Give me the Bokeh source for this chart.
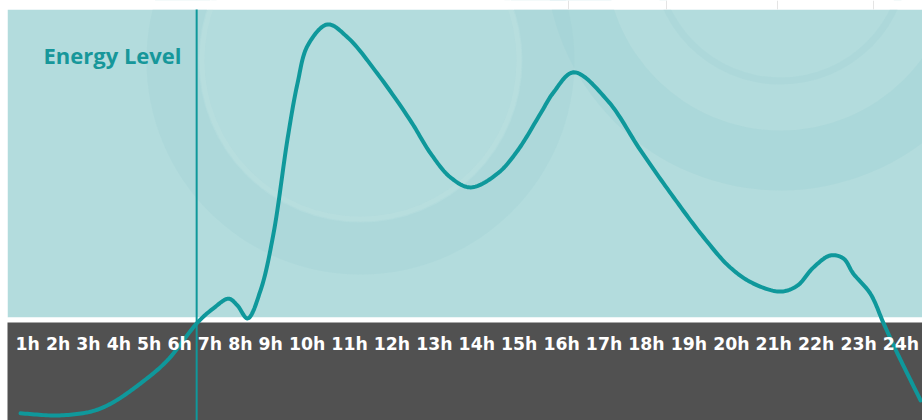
import numpy as np
from bokeh.plotting import figure
from bokeh.models import Range1d
from bokeh.core.properties import value
from bokeh.embed import file_html
from bokeh.resources import INLINE

# ---------------- data ----------------
hour_labels = [f"{h}h" for h in range(1, 25)]

# energy curve: time of day (hours) and energy level (0-100)
curve_hours = [0.83, 1.80, 2.67, 3.20, 3.98, 4.69, 5.48, 5.90, 6.30, 6.53, 6.80,
               7.14, 7.48, 7.85, 8.11, 8.38, 8.90, 9.43, 10.21, 11.08,
               11.61, 12.13, 12.66, 13.37, 13.90, 14.50, 14.84, 15.37, 16.26,
               17.13, 18.00, 18.79, 19.49, 20.10, 20.81, 21.25, 21.67, 22.12,
               22.46, 22.72, 23.17, 23.52, 23.88, 24.49]
curve_energy = [1.7, 1.2, 2.1, 4.0, 8.8, 14.3, 23.3, 26.7, 29.0, 27.4, 24.3,
                31.0, 44.5, 67.1, 80.2, 89.3, 94.3, 91.2, 82.6, 71.4,
                63.6, 57.9, 55.5, 58.8, 64.3, 73.1, 78.1, 82.9, 76.2,
                64.3, 53.1, 43.6, 36.4, 32.6, 30.7, 32.1, 36.4, 39.3,
                38.6, 35.0, 30.2, 23.1, 16.0, 4.8]
now_hour = 5.46
title_text = "Energy Level"

# ---------------- layout helpers ----------------
W, H = 922, 420
PX_PER_HOUR = 38.04
X0 = 1 - 26.5 / PX_PER_HOUR
X1 = X0 + W / PX_PER_HOUR
Y0, Y1 = 0.0, 100.0


def px2x(px):
    return X0 + px * (X1 - X0) / W


def py2y(py):
    return Y1 - py * (Y1 - Y0) / H


TEAL_BG = "#b3dcdd"
RING = "#9ed2d5"
DARK = "#515151"
LINE = "#0f989b"

p = figure(width=W, height=H, output_backend="svg", toolbar_location=None,
           x_range=Range1d(X0, X1), y_range=Range1d(Y0, Y1),
           x_axis_location=None, y_axis_location=None, min_border=0,
           background_fill_color="white", border_fill_color="white")
p.grid.visible = False
p.outline_line_color = None

# teal panel
p.quad(left=px2x(7), right=px2x(W), top=py2y(9), bottom=py2y(317),
       fill_color=TEAL_BG, line_color=None)

# faint decorative rings
rings = [  # cx, cy, r_in, r_out, color, alpha
    (360, 60, 162, 214, RING, 0.30),
    (360, 60, 156, 161, "#c2e3e4", 0.25),
    (780, -45, 175, 235, RING, 0.35),
    (780, -45, 122, 129, RING, 0.30),
]
for cx, cy, ri, ro, col, a in rings:
    p.annulus(x=px2x(cx), y=py2y(cy), inner_radius=ri, outer_radius=ro,
              inner_radius_units="screen", outer_radius_units="screen",
              fill_color=col, fill_alpha=a, line_color=None)

# mask: white strips around the panel
p.quad(left=px2x(0), right=px2x(W), top=py2y(0), bottom=py2y(9),
       fill_color="white", line_color=None)
p.quad(left=px2x(0), right=px2x(7), top=py2y(0), bottom=py2y(H),
       fill_color="white", line_color=None)
p.quad(left=px2x(7), right=px2x(W), top=py2y(317), bottom=py2y(322),
       fill_color="white", line_color=None)
# faint seams in the top strip
for sxp in (568, 666, 777, 873):
    p.segment(x0=px2x(sxp), y0=py2y(0), x1=px2x(sxp), y1=py2y(9),
              line_color="#e4e4e4", line_width=1)
# dark band
p.quad(left=px2x(7), right=px2x(W), top=py2y(322), bottom=py2y(H),
       fill_color=DARK, line_color=None)

# "now" marker line
p.segment(x0=now_hour, y0=py2y(9), x1=now_hour, y1=py2y(H),
          line_color=LINE, line_width=2)


# smooth curve through the read points (centripetal Catmull-Rom, screen space)
def smooth(xs, ys, n=16):
    P = np.column_stack([np.asarray(xs) * PX_PER_HOUR, np.asarray(ys) * 4.2])
    P = np.vstack([2 * P[0] - P[1], P, 2 * P[-1] - P[-2]])
    out = []
    for i in range(1, len(P) - 2):
        p0, p1, p2, p3 = P[i - 1], P[i], P[i + 1], P[i + 2]
        t0 = 0.0
        t1 = t0 + np.linalg.norm(p1 - p0) ** 0.5
        t2 = t1 + np.linalg.norm(p2 - p1) ** 0.5
        t3 = t2 + np.linalg.norm(p3 - p2) ** 0.5
        for t in np.linspace(t1, t2, n, endpoint=False):
            a1 = (t1 - t) / (t1 - t0) * p0 + (t - t0) / (t1 - t0) * p1
            a2 = (t2 - t) / (t2 - t1) * p1 + (t - t1) / (t2 - t1) * p2
            a3 = (t3 - t) / (t3 - t2) * p2 + (t - t2) / (t3 - t2) * p3
            b1 = (t2 - t) / (t2 - t0) * a1 + (t - t0) / (t2 - t0) * a2
            b2 = (t3 - t) / (t3 - t1) * a2 + (t - t1) / (t3 - t1) * a3
            c = (t2 - t) / (t2 - t1) * b1 + (t - t1) / (t2 - t1) * b2
            out.append(c)
    out.append(P[-2])
    out = np.array(out)
    return out[:, 0] / PX_PER_HOUR, out[:, 1] / 4.2


sx, sy = smooth(curve_hours, curve_energy)
p.line(sx, sy, line_color=LINE, line_width=4, line_cap="round", line_join="round")

# hour labels laid out as one text row (DejaVu Sans Bold advance widths, em)
FS = 17.3
ADV = {"h": 0.712, " ": 0.348}
cursor = 15.0
label_px = []
for lab in hour_labels:
    w = sum(ADV.get(c, 0.696) for c in lab) * FS
    label_px.append(cursor + w / 2)
    cursor += w + ADV[" "] * FS
p.text(x=[px2x(v) for v in label_px], y=[py2y(343)] * len(hour_labels),
       text=hour_labels, text_align="center", text_baseline="middle",
       text_font=value("DejaVu Sans"), text_font_style="bold",
       text_font_size=f"{FS}px", text_color="white")

# title
p.text(x=[px2x(43)], y=[py2y(54)], text=[title_text],
       text_align="left", text_baseline="middle",
       text_font=value("Open Sans"), text_font_style="bold",
       text_font_size="22px", text_color="#17979a")

open("out.html", "w").write(file_html(p, INLINE))
